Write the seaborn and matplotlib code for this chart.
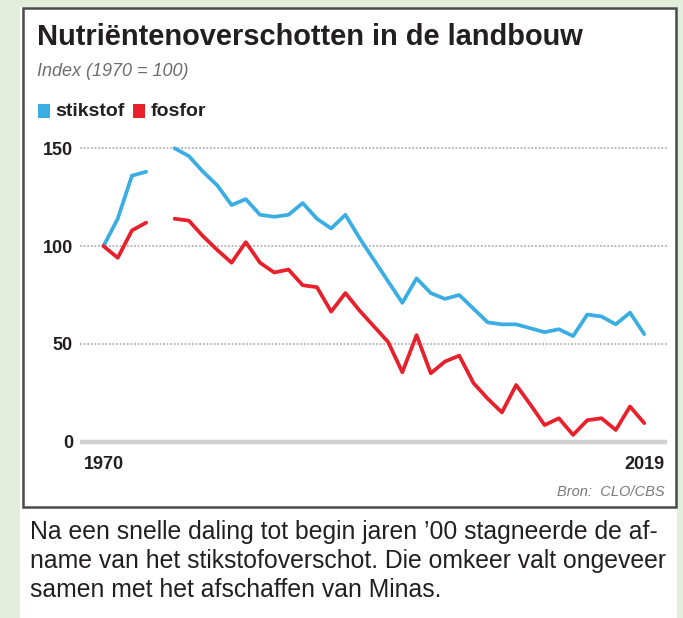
import numpy as np
import pandas as pd
import matplotlib
matplotlib.use("Agg")
import matplotlib.pyplot as plt
import seaborn as sns
from matplotlib import font_manager as fm
from matplotlib.patches import Rectangle

# ---------------- data ----------------
jaar_labels = ["1970", "2019"]
reeksen = ["stikstof", "fosfor"]
# one value per plotted position; None marks the break in the series
stikstof = [100, 114, 136, 138, None,
            150, 146, 138, 131, 121, 124, 116, 115, 116, 122,
            114, 109, 116, 104, 93, 82, 71, 83.5, 76, 73,
            75, 68, 61, 60, 60, 58, 56, 57.5, 54, 65,
            64, 60, 66, 55]
fosfor = [100, 94, 108, 112, None,
          114, 113, 105, 98, 91.5, 102, 91.5, 86.5, 88, 80,
          79, 66.5, 76, 67, 59, 51, 35.5, 54.5, 35, 41,
          44, 30, 22, 15, 29, 19, 8.5, 12, 3.5, 11,
          12, 6, 18, 9.5]
y_ticks = [0, 50, 100, 150]

titel = "Nutriëntenoverschotten in de landbouw"
ondertitel = "Index (1970 = 100)"
bron = "Bron:  CLO/CBS"
onderschrift = [
    "Na een snelle daling tot begin jaren \u201900 stagneerde de af-",
    "name van het stikstofoverschot. Die omkeer valt ongeveer",
    "samen met het afschaffen van Minas.",
]

BLUE = "#3aaee2"
RED = "#e8202b"
INK = "#231f20"
GREEN_BG = "#e3eeda"

# ---------------- styling ----------------
sns.set_theme(style="white")
names = {f.name for f in fm.fontManager.ttflist}
SANS = "Liberation Sans" if "Liberation Sans" in names else "DejaVu Sans"
NARROW = "Liberation Sans Narrow" if "Liberation Sans Narrow" in names else SANS
plt.rcParams["font.family"] = [SANS, "DejaVu Sans"]

W, H = 683, 618
fig = plt.figure(figsize=(W / 100, H / 100), dpi=100)
fig.patch.set_facecolor(GREEN_BG)


def fx(px):
    return px / W


def fy(py):
    return 1 - py / H


renderer = fig.canvas.get_renderer()


def fit_width(t, width_px):
    bb = t.get_window_extent(renderer)
    t.set_fontsize(t.get_fontsize() * width_px / bb.width)
    return t


# white page and framed box
fig.add_artist(Rectangle((fx(20), 0), fx(677) - fx(20), fy(7), transform=fig.transFigure,
                         facecolor="white", edgecolor="none", zorder=-2))
fig.add_artist(Rectangle((fx(23), fy(507)), fx(676) - fx(23), fy(8) - fy(507),
                         transform=fig.transFigure, fill=False,
                         edgecolor="#4a4a4a", lw=1.8, zorder=-1))

# ---------------- chart ----------------
n = len(stikstof)
seg = list(np.cumsum([v is None for v in stikstof]))
df = pd.DataFrame({
    "positie": list(range(n)) * 2,
    "index": [np.nan if v is None else v for v in stikstof + fosfor],
    "reeks": [reeksen[0]] * n + [reeksen[1]] * n,
    "segment": seg * 2,
}).dropna()

ax = fig.add_axes([fx(80), fy(451.5), (667 - 80) / W, (451.5 - 138.5) / H])
ax.set_zorder(1)
ax.set_facecolor("none")

for v in y_ticks[1:]:
    ax.axhline(v, color="#b3b3b3", lw=1.3, ls=(0, (1.0, 1.0)), zorder=0.5)
ax.axhline(0, color="#d0d0d0", lw=3.2, zorder=0.5)

sns.lineplot(data=df, x="positie", y="index", hue="reeks", units="segment",
             estimator=None, palette={reeksen[0]: BLUE, reeksen[1]: RED},
             linewidth=2.7, legend=False, ax=ax, zorder=3)

ax.set_xlim(-1.65, n - 1 + 1.6)
ax.set_ylim(-5, 155)
ax.set_yticks(y_ticks)
ax.set_yticklabels([str(v) for v in y_ticks], fontweight="bold", fontsize=13, color=INK)
ax.set_xticks([0, n - 1])
ax.set_xticklabels(jaar_labels, fontweight="bold", fontsize=13, color=INK)
ax.tick_params(axis="y", length=0, pad=5)
ax.tick_params(axis="x", length=0, pad=3.5)
ax.set_xlabel("")
ax.set_ylabel("")
sns.despine(ax=ax, left=True, bottom=True)

# ---------------- texts ----------------
t = fig.text(fx(37), fy(45), titel, fontsize=20, fontweight="bold", color=INK, va="baseline")
fit_width(t, 547)

st = fig.text(fx(37), fy(72), ondertitel, fontsize=13, style="italic", color="#6d6d6d",
              va="center", family=[NARROW, "DejaVu Sans"])

# legend
x = 38
for naam, kleur in zip(reeksen, [BLUE, RED]):
    fig.add_artist(Rectangle((fx(x), fy(117.5)), 12 / W, 13 / H, transform=fig.transFigure,
                             facecolor=kleur, edgecolor="none"))
    x += 17
    lt = fig.text(fx(x), fy(111), naam, fontsize=14, fontweight="bold", color=INK,
                  va="center", family=[NARROW, "DejaVu Sans"])
    x += lt.get_window_extent(renderer).width + 9

fig.text(fx(665), fy(492), bron, fontsize=10.5, style="italic", color="#7a7a7a",
         ha="right", va="center", family=[NARROW, "DejaVu Sans"])

caps = []
for i, line in enumerate(onderschrift):
    caps.append(fig.text(fx(30), fy(532 + 29 * i), line, fontsize=16, color=INK, va="center"))
bb = caps[1].get_window_extent(renderer)
size = caps[1].get_fontsize() * 637 / bb.width
for c in caps:
    c.set_fontsize(size)

fig.savefig("out.png", dpi=100, facecolor=fig.get_facecolor())
